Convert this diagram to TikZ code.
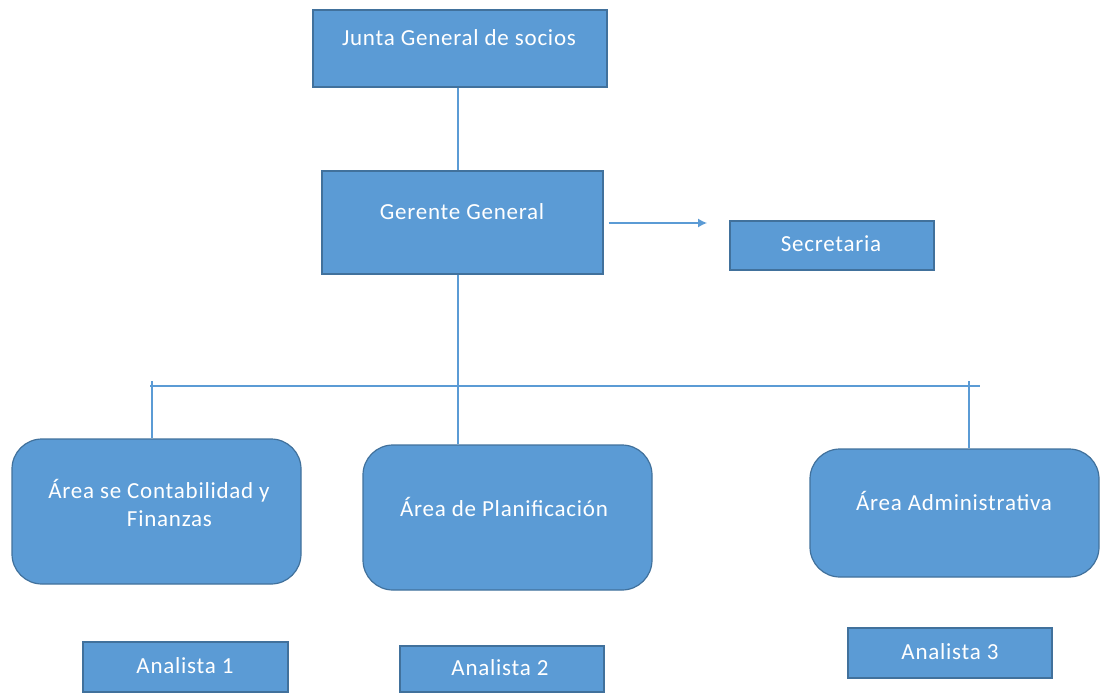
\documentclass[tikz,border=0pt]{standalone}
\usepackage{fontspec}
\setmainfont{Carlito}[LetterSpace=3.3]
\usetikzlibrary{arrows.meta}
\definecolor{boxfill}{HTML}{5B9BD5}
\definecolor{boxline}{HTML}{41719C}
\begin{document}
\begin{tikzpicture}[x=1pt,y=-1pt,
  box/.style={draw=boxline, line width=1.2pt, fill=boxfill, inner sep=0pt},
  rbox/.style={box, rounded corners=30pt},
  txt/.style={text=white, font=\fontsize{23}{28}\selectfont, align=center, inner sep=0pt},
  conn/.style={draw=boxfill, line width=1.3pt}]
\useasboundingbox (0,0) rectangle (1100,693);
% boxes
\node[box, minimum width=294pt, minimum height=77pt] (junta) at (460,48.5) {};
\node[box, minimum width=281pt, minimum height=103pt] (gerente) at (462.5,222.5) {};
\node[box, minimum width=204pt, minimum height=49pt] (secre) at (832,245.5) {};
\node[rbox, minimum width=289pt, minimum height=145pt] (conta) at (156.5,511.5) {};
\node[rbox, minimum width=289pt, minimum height=145pt] (plan) at (507.5,517.5) {};
\node[rbox, minimum width=289pt, minimum height=128pt] (admin) at (954.5,513) {};
\node[box, minimum width=205pt, minimum height=50pt] (an1) at (185.5,667) {};
\node[box, minimum width=204pt, minimum height=46pt] (an2) at (502,669) {};
\node[box, minimum width=204pt, minimum height=50pt] (an3) at (950,653) {};
% texts
\node[txt] (tjunta) at (459,38) {Junta General de socios};
\node[txt] (tgerente) at (462,212) {Gerente General};
\node[txt] (tsecre) at (831,244) {Secretaria};
\node[txt] (tconta) at (159,503) {Área se Contabilidad y\\\hspace*{21pt}Finanzas};
\node[txt] (tplan) at (504,507) {Área de Planificación};
\node[txt] (tadmin) at (954,501) {Área Administrativa};
\node[txt] (tan1) at (185,666) {Analista 1};
\node[txt] (tan2) at (500,668) {Analista 2};
\node[txt] (tan3) at (950,652) {Analista 3};
% connectors
\coordinate (trunk) at (458,386);
\coordinate (busL) at (150,386);
\coordinate (busR) at (980,386);
\coordinate (stubL) at (152,381);
\coordinate (stubR) at (969,381);
\coordinate (arrEnd) at (707,223);
\draw[conn] (junta.south -| trunk) -- (gerente.north -| trunk);
\draw[conn] (gerente.south -| trunk) -- (plan.north -| trunk);
\draw[conn] (busL) -- (busR);
\draw[conn] (stubL) -- (stubL |- conta.north);
\draw[conn] (stubR) -- (stubR |- admin.north);
\draw[conn, -{Latex[length=9pt,width=9pt]}] ([xshift=5pt]gerente.east |- arrEnd) -- (arrEnd);
\end{tikzpicture}
\end{document}
